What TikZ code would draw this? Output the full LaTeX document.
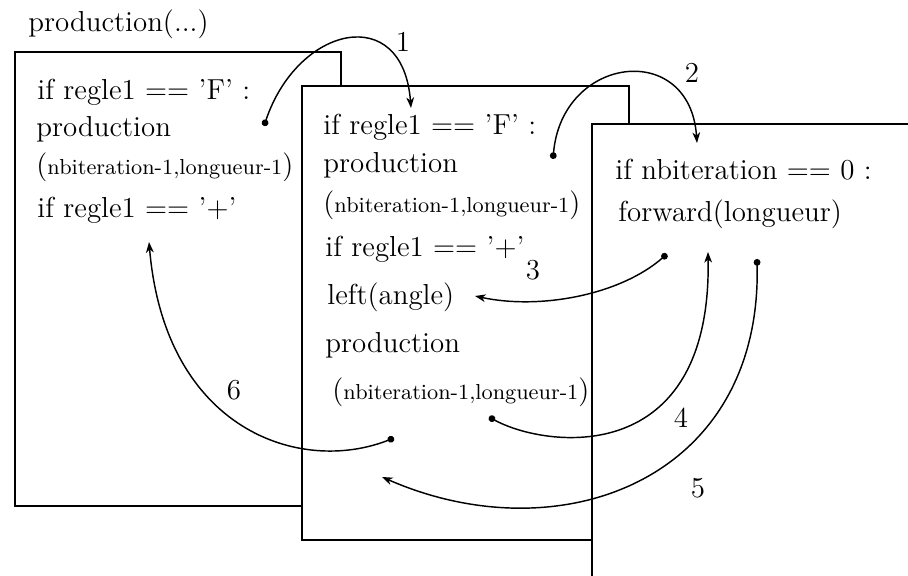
\documentclass[tikz,border=0pt]{standalone}
\usepackage{tikz}
\usetikzlibrary{arrows.meta}
\tikzset{
  frame/.style={draw=black, fill=white, line width=0.7pt},
  codeline/.style={anchor=base west, inner sep=0pt, font=\large},
  stepno/.style={anchor=base, inner sep=0pt, font=\large},
  callarr/.style={{Circle[length=2.8pt]}-{Stealth[length=4.4pt,width=3.2pt,inset=1.3pt]}, line width=0.6pt},
}

\begin{document}
\begin{tikzpicture}[x=0.415pt, y=0.415pt]
\useasboundingbox (0,0) rectangle (908,-576);
% frames, back to front
\draw[frame] (15,-52) rectangle (341,-506);
\draw[frame] (302,-86) rectangle (629,-540);
\fill[white] (592,-124) rectangle (908,-576);
\draw[line width=0.7pt] (908,-124) -- (592,-124) -- (592,-576);
% code
\node[codeline] (title) at (28,-32) {production(...)};
\node[codeline] (a1) at (37,-100) {if regle1 $==$ 'F' :};
\node[codeline] (a2) at (36,-137) {production};
\node[codeline] (a3) at (36,-175) {({\small nbiteration-1,longueur-1})};
\node[codeline] (a4) at (37,-218) {if regle1 $==$ '$+$'};
\node[codeline] (b1) at (323,-135) {if regle1 $==$ 'F' :};
\node[codeline] (b2) at (323,-173) {production};
\node[codeline] (b3) at (323,-213) {({\small nbiteration-1,longueur-1})};
\node[codeline] (b4) at (325,-257) {if regle1 $==$ '$+$'};
\node[codeline] (b5) at (327,-305) {left(angle)};
\node[codeline] (b6) at (325,-353) {production};
\node[codeline] (b7) at (332,-400) {({\small nbiteration-1,longueur-1})};
\node[codeline] (c1) at (615,-180) {if nbiteration $==$ 0 :};
\node[codeline] (c2) at (618,-222) {forward(longueur)};
% calls and returns
\coordinate (d1) at (264,-126); \coordinate (t1) at (411,-108);
\coordinate (d2) at (553,-159); \coordinate (t2) at (697,-143);
\coordinate (d3) at (667,-254); \coordinate (t3) at (475,-296);
\coordinate (d4) at (489,-417); \coordinate (t4) at (708,-252);
\coordinate (d5) at (757,-259); \coordinate (t5) at (382,-477);
\coordinate (d6) at (394,-438); \coordinate (t6) at (149,-242);
\draw[callarr] (d1) .. controls (298,-25) and (403,-2) .. (t1);
\draw[callarr] (d2) .. controls (562,-55) and (690,-40) .. (t2);
\draw[callarr] (d3) .. controls (620,-295) and (540,-310) .. (t3);
\draw[callarr] (d4) .. controls (545,-448) and (712,-470) .. (t4);
\draw[callarr] (d5) .. controls (762,-480) and (560,-555) .. (t5);
\draw[callarr] (d6) .. controls (300,-475) and (165,-430) .. (t6);
\node[stepno] (n1) at (403,-52) {1};
\node[stepno] (n2) at (692,-83) {2};
\node[stepno] (n3) at (533,-280) {3};
\node[stepno] (n4) at (681,-428) {4};
\node[stepno] (n5) at (698,-498) {5};
\node[stepno] (n6) at (234,-400) {6};
\end{tikzpicture}
\end{document}
